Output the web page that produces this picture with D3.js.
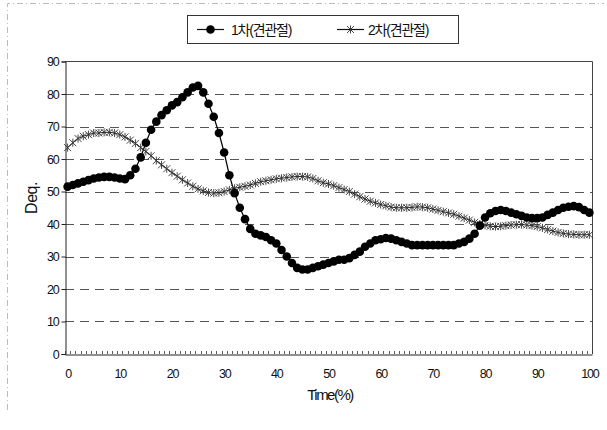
<!DOCTYPE html>
<html>
<head>
<meta charset="utf-8">
<script src="https://cdn.jsdelivr.net/npm/d3@7"></script>
<style>
  html, body { margin: 0; padding: 0; background: #fff; }
  svg { display: block; }
  text { font-family: "Liberation Sans", Arial, "Noto Sans CJK KR", sans-serif; fill: #111; }
</style>
</head>
<body>
<div id="chart"></div>
<script>
// Time axis: 0 .. 100 %
const timePct = d3.range(0, 101);

// 1차(견관절) joint angle per time step
const series1 = [
  51.5, 52, 52.5, 53, 53.5, 54, 54.3, 54.5, 54.5, 54.3,
  54, 53.8, 55, 57, 60.5, 65, 69, 71.5, 73.5, 75,
  76.5, 77.5, 79, 80.5, 82, 82.5, 80.5, 77, 73, 68,
  62, 55, 49.5, 45, 41.5, 38.5, 37, 36.5, 36, 35,
  34, 32, 30, 28, 26.5, 26, 26, 26.5, 27, 27.5,
  28, 28.5, 29, 29, 29.5, 30.5, 31.5, 33, 34, 35,
  35.3, 35.7, 35.5, 35, 34.5, 34, 33.5, 33.5, 33.5, 33.5,
  33.5, 33.5, 33.5, 33.5, 33.5, 34, 34.5, 35.5, 37, 39.5,
  42, 43.3, 44, 44.3, 44, 43.5, 43, 42.5, 42, 41.8,
  41.8, 42, 42.8, 43.5, 44.3, 45, 45.3, 45.5, 45.2, 44.3,
  43.5
];

// 2차(견관절) joint angle per time step
const series2 = [
  63.5, 65, 66.3, 67, 67.5, 68, 68, 68.2, 68.2, 68,
  67.5, 66.8, 65.8, 64.8, 63.5, 62.3, 61, 59.5, 58.2, 57,
  55.8, 54.7, 53.6, 52.6, 51.6, 50.8, 50.2, 49.7, 49.5, 49.6,
  50, 50.5, 51, 51.3, 51.6, 52, 52.5, 53, 53.3, 53.6,
  53.9, 54.1, 54.3, 54.5, 54.6, 54.6, 54.5, 54, 53.3, 52.7,
  52.3, 51.8, 51.2, 50.6, 50, 49.2, 48.4, 47.7, 47, 46.5,
  46, 45.6, 45.2, 45, 45, 45, 45.1, 45.3, 45.2, 45,
  44.6, 44.2, 43.8, 43.4, 43, 42.4, 41.8, 41.2, 40.5, 40,
  39.6, 39.3, 39.2, 39.3, 39.5, 39.7, 39.8, 39.8, 39.7, 39.5,
  39.2, 38.8, 38.3, 37.8, 37.4, 37.1, 36.9, 36.8, 36.7, 36.7,
  36.7
];

const seriesNames = ["1차(견관절)", "2차(견관절)"];
const xTickLabels = [0, 10, 20, 30, 40, 50, 60, 70, 80, 90, 100];
const yTickLabels = [0, 10, 20, 30, 40, 50, 60, 70, 80, 90];

const W = 607, H = 430;
const plot = { left: 65, right: 592, top: 61.5, bottom: 354 };

const svg = d3.select("#chart").append("svg")
  .attr("width", W).attr("height", H);

// faint outer frame (left and top edges)
svg.append("path")
  .attr("d", "M7.5,410V3.5H604")
  .attr("fill", "none").attr("stroke", "#bbb").attr("stroke-width", 1)
  .attr("stroke-dasharray", "6,3,1,3");

const x = d3.scalePoint().domain(timePct).range([plot.left, plot.right]).padding(0.5);
const step = x.step();
const y = d3.scaleLinear().domain([0, 90]).range([plot.bottom, plot.top]);

// horizontal dashed gridlines
svg.append("g").selectAll("line")
  .data(yTickLabels.filter(v => v > 0 && v < 90))
  .join("line")
  .attr("x1", plot.left).attr("x2", plot.right)
  .attr("y1", d => Math.round(y(d)) + 0.5).attr("y2", d => Math.round(y(d)) + 0.5)
  .attr("stroke", "#555").attr("stroke-width", 1)
  .attr("stroke-dasharray", "9,6");

// plot area border (top and right)
svg.append("path")
  .attr("d", `M${plot.left},${plot.top}H${plot.right + 0.5}V${plot.bottom}`)
  .attr("fill", "none").attr("stroke", "#444").attr("stroke-width", 1);

// y axis
const yAxis = d3.axisLeft(y).tickValues(yTickLabels).tickSize(4).tickPadding(3);
const gy = svg.append("g").attr("transform", `translate(${plot.left + 0.5},0)`).call(yAxis);
gy.select(".domain").attr("stroke", "#222");
gy.selectAll(".tick line").attr("stroke", "#222");
gy.selectAll(".tick text")
  .style("font-size", "12.5px").style("letter-spacing", "-1.2px").attr("fill", "#111");

// x axis: labels every 10 %, small inward ticks on each category boundary
const xAxis = d3.axisBottom(x).tickValues(xTickLabels).tickSize(0).tickPadding(15);
const gx = svg.append("g").attr("transform", `translate(0,${plot.bottom + 0.5})`).call(xAxis);
gx.select(".domain").attr("stroke", "#222");
gx.selectAll(".tick text")
  .style("font-size", "12.5px").style("letter-spacing", "-1.2px").attr("fill", "#111");

svg.append("g").selectAll("line")
  .data(d3.range(0, timePct.length + 1))
  .join("line")
  .attr("x1", i => Math.round(plot.left + i * step) + 0.5)
  .attr("x2", i => Math.round(plot.left + i * step) + 0.5)
  .attr("y1", plot.bottom).attr("y2", plot.bottom - 3)
  .attr("stroke", "#333").attr("stroke-width", 0.8);

// axis titles
svg.append("text")
  .attr("transform", "translate(37,198) rotate(-90)")
  .attr("text-anchor", "middle")
  .style("font-size", "16px").style("letter-spacing", "-0.5px")
  .text("Deq.");

svg.append("text")
  .attr("x", 330).attr("y", 400)
  .attr("text-anchor", "middle")
  .style("font-size", "15px").style("letter-spacing", "-1.5px")
  .text("Time(%)");

// series lines
const line = d3.line().x((d, i) => x(timePct[i])).y(d => y(d));

svg.append("path").datum(series2)
  .attr("d", line).attr("fill", "none")
  .attr("stroke", "#222").attr("stroke-width", 1);

svg.append("path").datum(series1)
  .attr("d", line).attr("fill", "none")
  .attr("stroke", "#000").attr("stroke-width", 1.2);

// star markers for series 2
const starPath = "M-3.5,-3.5L3.5,3.5M-3.5,3.5L3.5,-3.5M0,-4L0,4";
svg.append("g").selectAll("path")
  .data(series2)
  .join("path")
  .attr("transform", (d, i) => `translate(${x(timePct[i])},${y(d)})`)
  .attr("d", starPath)
  .attr("fill", "none").attr("stroke", "#333").attr("stroke-width", 0.9);

// filled circle markers for series 1
svg.append("g").selectAll("circle")
  .data(series1)
  .join("circle")
  .attr("cx", (d, i) => x(timePct[i]))
  .attr("cy", d => y(d))
  .attr("r", 4.3)
  .attr("fill", "#000");

// legend
const lg = svg.append("g");
lg.append("rect")
  .attr("x", 187.5).attr("y", 15.5).attr("width", 271).attr("height", 28)
  .attr("fill", "#fff").attr("stroke", "#333").attr("stroke-width", 1);

const legendItems = [
  { name: seriesNames[0], x0: 197, kind: "circle", tx: 231 },
  { name: seriesNames[1], x0: 337, kind: "star", tx: 368 }
];
const ly = 29.5;
legendItems.forEach(it => {
  lg.append("line")
    .attr("x1", it.x0).attr("x2", it.x0 + 27)
    .attr("y1", ly).attr("y2", ly)
    .attr("stroke", "#111").attr("stroke-width", 1.2);
  if (it.kind === "circle") {
    lg.append("circle").attr("cx", it.x0 + 13.5).attr("cy", ly).attr("r", 4.3).attr("fill", "#000");
  } else {
    lg.append("path").attr("transform", `translate(${it.x0 + 13.5},${ly})`)
      .attr("d", starPath).attr("fill", "none").attr("stroke", "#333").attr("stroke-width", 0.9);
  }
  lg.append("text")
    .attr("x", it.tx).attr("y", ly + 5)
    .style("font-size", "14px").style("letter-spacing", "-1.2px")
    .text(it.name);
});
</script>
</body>
</html>
